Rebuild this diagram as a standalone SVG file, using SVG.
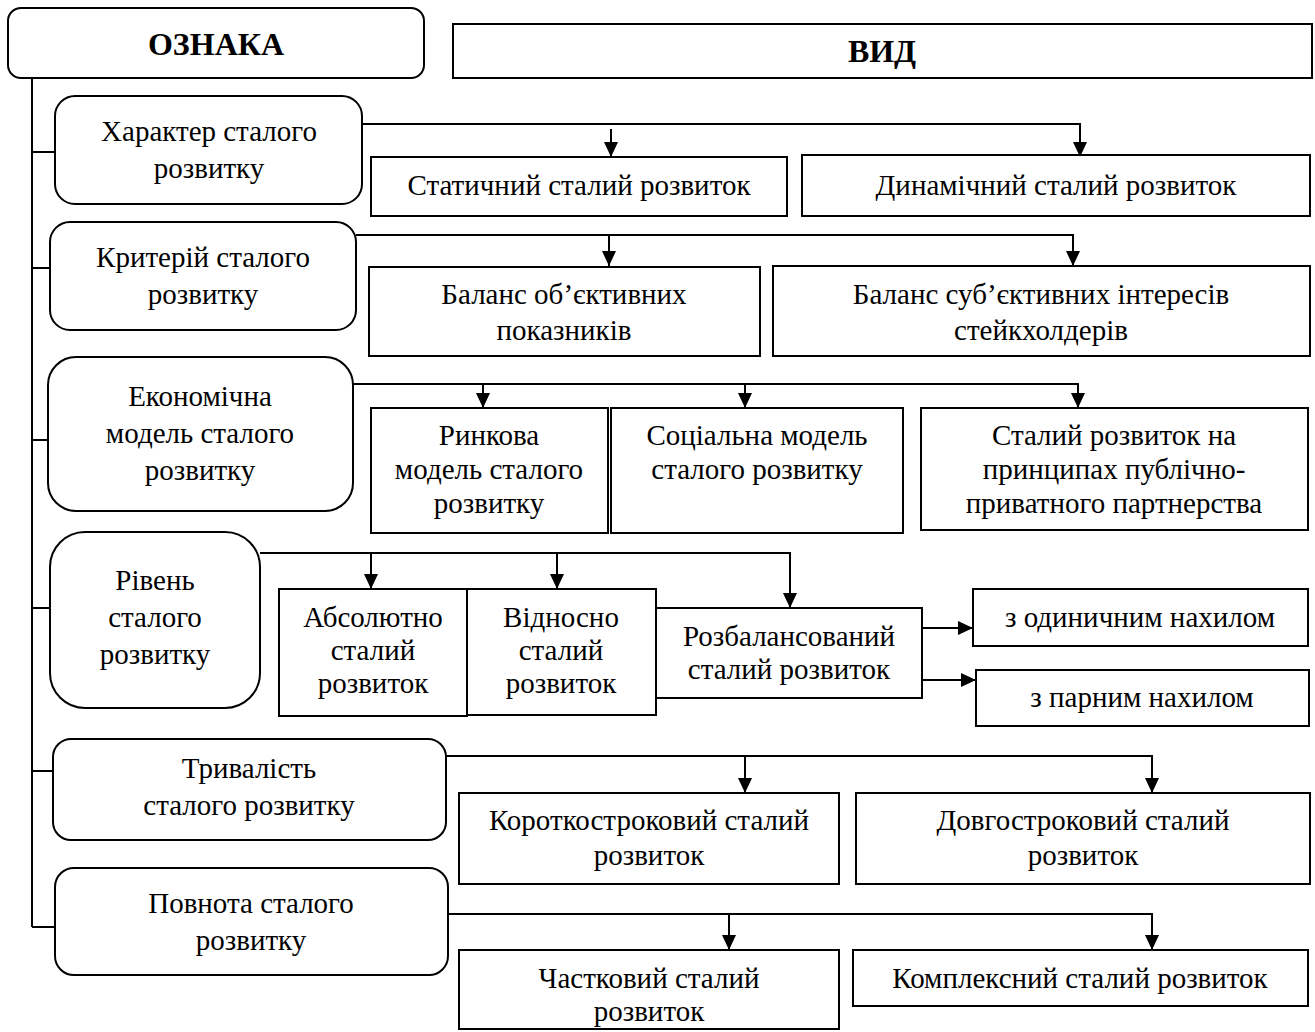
<svg xmlns="http://www.w3.org/2000/svg" width="1315" height="1032" viewBox="0 0 1315 1032">
  <style>
    .box { fill: #fff; stroke: #000; stroke-width: 2; }
    .ln { fill: none; stroke: #000; stroke-width: 2; }
    text { font-family: "Liberation Serif", "Times New Roman", serif; font-size: 29px; fill: #000; text-anchor: middle; }
    .hd { font-weight: bold; font-size: 32px; }
  </style>
  <defs>
    <marker id="arr" markerUnits="userSpaceOnUse" markerWidth="16" markerHeight="16" refX="15" refY="7" orient="auto">
      <path d="M0,0 L15,7 L0,14 Z" fill="#000"/>
    </marker>
  </defs>
  <rect width="1315" height="1032" fill="#fff"/>

  <!-- connectors -->
  <g id="connectors" class="ln">
    <!-- trunk and stubs -->
    <path d="M32,78 V927"/>
    <path d="M32,152 H55"/>
    <path d="M32,268 H50"/>
    <path d="M32,440 H48"/>
    <path d="M32,608 H50"/>
    <path d="M32,771 H53"/>
    <path d="M32,927 H55"/>
    <!-- row 1 -->
    <path d="M362,124 H1080 V157" marker-end="url(#arr)"/>
    <path d="M611,129 V157" marker-end="url(#arr)"/>
    <!-- row 2 -->
    <path d="M356,235 H1073 V266" marker-end="url(#arr)"/>
    <path d="M609,235 V266" marker-end="url(#arr)"/>
    <!-- row 3 -->
    <path d="M353,384 H1078 V408" marker-end="url(#arr)"/>
    <path d="M483,384 V408" marker-end="url(#arr)"/>
    <path d="M745,384 V408" marker-end="url(#arr)"/>
    <!-- row 4 -->
    <path d="M260,553 H790 V608" marker-end="url(#arr)"/>
    <path d="M371,553 V589" marker-end="url(#arr)"/>
    <path d="M557,553 V589" marker-end="url(#arr)"/>
    <path d="M922,628 H973" marker-end="url(#arr)"/>
    <path d="M922,680 H976" marker-end="url(#arr)"/>
    <!-- row 5 -->
    <path d="M446,756 H1152 V793" marker-end="url(#arr)"/>
    <path d="M745,756 V793" marker-end="url(#arr)"/>
    <!-- row 6 -->
    <path d="M448,914 H1152 V950" marker-end="url(#arr)"/>
    <path d="M729,914 V950" marker-end="url(#arr)"/>
  </g>

  <!-- headers -->
  <g id="header-oznaka">
    <rect class="box" x="8" y="8" width="416" height="70" rx="13"/>
    <text class="hd" x="216" y="55">ОЗНАКА</text>
  </g>
  <g id="header-vyd">
    <rect class="box" x="453" y="24" width="859" height="54"/>
    <text class="hd" x="882" y="62">ВИД</text>
  </g>

  <!-- feature nodes -->
  <g id="node-character">
    <rect class="box" x="55" y="96" width="307" height="108" rx="20"/>
    <text x="209" y="141">Характер сталого</text>
    <text x="209" y="178">розвитку</text>
  </g>
  <g id="node-criterion">
    <rect class="box" x="50" y="222" width="306" height="108" rx="20"/>
    <text x="203" y="267">Критерій сталого</text>
    <text x="203" y="304">розвитку</text>
  </g>
  <g id="node-model">
    <rect class="box" x="48" y="357" width="305" height="154" rx="28"/>
    <text x="200" y="406">Економічна</text>
    <text x="200" y="443">модель сталого</text>
    <text x="200" y="480">розвитку</text>
  </g>
  <g id="node-level">
    <rect class="box" x="50" y="532" width="210" height="176" rx="35"/>
    <text x="155" y="590">Рівень</text>
    <text x="155" y="627">сталого</text>
    <text x="155" y="664">розвитку</text>
  </g>
  <g id="node-duration">
    <rect class="box" x="53" y="739" width="393" height="101" rx="18"/>
    <text x="249" y="778">Тривалість</text>
    <text x="249" y="815">сталого розвитку</text>
  </g>
  <g id="node-completeness">
    <rect class="box" x="55" y="868" width="393" height="107" rx="19"/>
    <text x="251" y="913">Повнота сталого</text>
    <text x="251" y="950">розвитку</text>
  </g>

  <!-- kinds -->
  <g id="kind-static">
    <rect class="box" x="371" y="157" width="416" height="59"/>
    <text x="579" y="195">Статичний сталий розвиток</text>
  </g>
  <g id="kind-dynamic">
    <rect class="box" x="802" y="155" width="508" height="61"/>
    <text x="1056" y="195">Динамічний сталий розвиток</text>
  </g>
  <g id="kind-objective">
    <rect class="box" x="369" y="267" width="391" height="89"/>
    <text x="564" y="304">Баланс об’єктивних</text>
    <text x="564" y="340">показників</text>
  </g>
  <g id="kind-subjective">
    <rect class="box" x="773" y="266" width="537" height="90"/>
    <text x="1041" y="304">Баланс суб’єктивних інтересів</text>
    <text x="1041" y="340">стейкхолдерів</text>
  </g>
  <g id="kind-market">
    <rect class="box" x="371" y="408" width="237" height="125"/>
    <text x="489" y="445">Ринкова</text>
    <text x="489" y="479">модель сталого</text>
    <text x="489" y="513">розвитку</text>
  </g>
  <g id="kind-social">
    <rect class="box" x="611" y="408" width="292" height="125"/>
    <text x="757" y="445">Соціальна модель</text>
    <text x="757" y="479">сталого розвитку</text>
  </g>
  <g id="kind-ppp">
    <rect class="box" x="921" y="408" width="387" height="122"/>
    <text x="1114" y="445">Сталий розвиток на</text>
    <text x="1114" y="479">принципах публічно-</text>
    <text x="1114" y="513">приватного партнерства</text>
  </g>
  <g id="kind-absolute">
    <rect class="box" x="279" y="589" width="188" height="127"/>
    <text x="373" y="627">Абсолютно</text>
    <text x="373" y="660">сталий</text>
    <text x="373" y="693">розвиток</text>
  </g>
  <g id="kind-relative">
    <rect class="box" x="467" y="589" width="189" height="126"/>
    <text x="561" y="627">Відносно</text>
    <text x="561" y="660">сталий</text>
    <text x="561" y="693">розвиток</text>
  </g>
  <g id="kind-unbalanced">
    <rect class="box" x="656" y="608" width="266" height="90"/>
    <text x="789" y="646">Розбалансований</text>
    <text x="789" y="679">сталий розвиток</text>
  </g>
  <g id="kind-single-tilt">
    <rect class="box" x="973" y="589" width="335" height="57"/>
    <text x="1140" y="627">з одиничним нахилом</text>
  </g>
  <g id="kind-pair-tilt">
    <rect class="box" x="976" y="670" width="333" height="56"/>
    <text x="1142" y="707">з парним нахилом</text>
  </g>
  <g id="kind-short">
    <rect class="box" x="459" y="793" width="380" height="91"/>
    <text x="649" y="830">Короткостроковий сталий</text>
    <text x="649" y="865">розвиток</text>
  </g>
  <g id="kind-long">
    <rect class="box" x="856" y="793" width="454" height="91"/>
    <text x="1083" y="830">Довгостроковий сталий</text>
    <text x="1083" y="865">розвиток</text>
  </g>
  <g id="kind-partial">
    <rect class="box" x="459" y="950" width="380" height="79"/>
    <text x="649" y="988">Частковий сталий</text>
    <text x="649" y="1021">розвиток</text>
  </g>
  <g id="kind-complex">
    <rect class="box" x="853" y="950" width="455" height="56"/>
    <text x="1080" y="988">Комплексний сталий розвиток</text>
  </g>
</svg>
